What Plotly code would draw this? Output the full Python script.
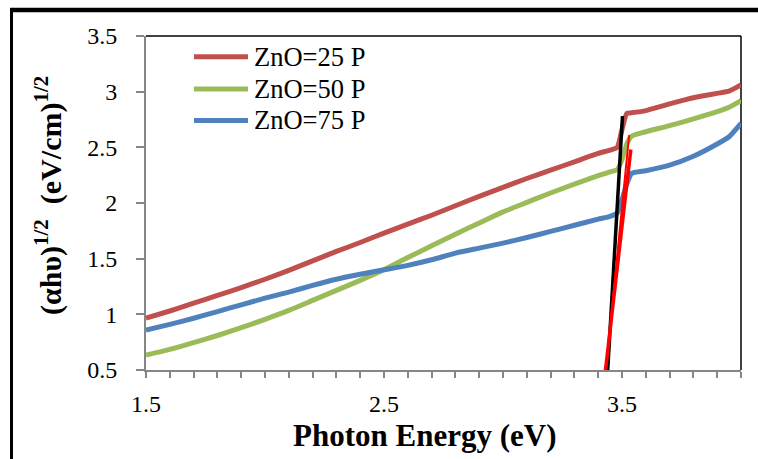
import plotly.graph_objects as go

# ---- data ----
energy = [1.5, 1.6, 1.7, 1.8, 1.9, 2.0, 2.1, 2.2, 2.3, 2.4, 2.5, 2.6, 2.7, 2.8, 2.9,
          3.0, 3.1, 3.2, 3.3, 3.4, 3.45, 3.48, 3.5, 3.52, 3.54, 3.6, 3.7, 3.8, 3.9, 3.95, 4.0]
zno_25 = [0.965, 1.03, 1.10, 1.17, 1.24, 1.315, 1.395, 1.48, 1.565, 1.645, 1.73, 1.81, 1.89,
          1.975, 2.06, 2.14, 2.22, 2.295, 2.37, 2.445, 2.475, 2.50, 2.66, 2.805, 2.81, 2.83,
          2.89, 2.945, 2.985, 3.005, 3.06]
zno_50 = [0.634, 0.685, 0.745, 0.81, 0.88, 0.955, 1.035, 1.125, 1.215, 1.305, 1.40, 1.51, 1.615,
          1.72, 1.82, 1.92, 2.005, 2.09, 2.17, 2.245, 2.28, 2.30, 2.39, 2.53, 2.60, 2.64,
          2.695, 2.755, 2.82, 2.86, 2.92]
zno_75 = [0.858, 0.91, 0.965, 1.025, 1.085, 1.145, 1.20, 1.26, 1.315, 1.36, 1.40, 1.44, 1.49,
          1.55, 1.595, 1.64, 1.69, 1.745, 1.80, 1.855, 1.88, 1.91, 2.03, 2.17, 2.265, 2.29,
          2.34, 2.42, 2.53, 2.595, 2.715]
series_names = ["ZnO=25 P", "ZnO=50 P", "ZnO=75 P"]

# band-gap extrapolation (tangent) lines
tan_black_x = [3.44, 3.502]
tan_black_y = [0.5, 2.78]
tan_red_x = [3.428, 3.537]
tan_red_y = [0.45, 2.48]
tan_red2_x = [3.43, 3.53]
tan_red2_y = [0.45, 2.61]

x_ticks = [1.5, 2.5, 3.5]
y_ticks = [0.5, 1, 1.5, 2, 2.5, 3, 3.5]

colors = ["#C0504D", "#9BBB59", "#4F81BD"]
SERIF = "Liberation Serif, Times New Roman, serif"

fig = go.Figure()
for name, ys, c in zip(series_names, [zno_25, zno_50, zno_75], colors):
    fig.add_trace(go.Scatter(x=energy, y=ys, mode="lines", name=name,
                             line=dict(color=c, width=5, shape="spline", smoothing=0.5),
                             showlegend=False))
fig.add_trace(go.Scatter(x=tan_black_x, y=tan_black_y, mode="lines",
                         line=dict(color="#000000", width=3.5), showlegend=False))
fig.add_trace(go.Scatter(x=tan_red2_x, y=tan_red2_y, mode="lines",
                         line=dict(color="#FF0000", width=2), showlegend=False))
fig.add_trace(go.Scatter(x=tan_red_x, y=tan_red_y, mode="lines",
                         line=dict(color="#FF0000", width=3.5), showlegend=False))

W, H = 758, 459
L, R, T, B = 146, 17, 36, 89
pw, ph = W - L - R, H - T - B

def px(xp):
    return (xp - L) / pw

def py(yp):
    return (H - B - yp) / ph

shapes = [
    # plot-area border (top and right edges)
    dict(type="line", xref="paper", yref="paper", x0=0, x1=1, y0=1, y1=1,
         line=dict(color="#000000", width=1.5), layer="below"),
    dict(type="line", xref="paper", yref="paper", x0=1, x1=1, y0=0, y1=1,
         line=dict(color="#000000", width=1.5), layer="below"),
    # outer chart frame: top edge
    dict(type="rect", xref="paper", yref="paper", x0=px(10.3), x1=px(758), y0=py(12.2), y1=py(7.8),
         fillcolor="#000000", line=dict(width=0), layer="above"),
]
annotations = []
legend_rows = [56.7, 89, 120.5]
for name, c, yy in zip(series_names, colors, legend_rows):
    shapes.append(dict(type="line", xref="paper", yref="paper", x0=px(194), x1=px(248),
                       y0=py(yy), y1=py(yy), line=dict(color=c, width=5)))
    annotations.append(dict(text=name, xref="paper", yref="paper", x=px(252), y=py(yy),
                            xanchor="left", yanchor="middle", showarrow=False,
                            font=dict(family=SERIF, size=26.5, color="#000000")))

# outer chart frame: left edge, drawn as a filled annotation box
annotations.append(dict(text=" ", xref="paper", yref="paper", x=px(10.3), y=py(7.8),
                        xanchor="left", yanchor="top", showarrow=False,
                        width=3, height=452, borderpad=0, borderwidth=0,
                        bgcolor="#000000", font=dict(size=2, color="#000000")))

annotations.append(dict(text="<b>Photon Energy (eV)</b>", xref="paper", yref="paper",
                        x=px(424), y=py(435), xanchor="center", yanchor="middle",
                        showarrow=False, font=dict(family=SERIF, size=31, color="#000000")))
annotations.append(dict(text="<b>(αhυ)<sup>1/2</sup>  (eV/cm)<sup>1/2</sup></b>", xref="paper",
                        yref="paper", x=px(48), y=py(196), xanchor="center", yanchor="middle",
                        textangle=-90, showarrow=False,
                        font=dict(family=SERIF, size=30, color="#000000")))

fig.update_layout(
    width=W, height=H,
    margin=dict(l=L, r=R, t=T, b=B, pad=0),
    paper_bgcolor="white", plot_bgcolor="white",
    showlegend=False,
    shapes=shapes, annotations=annotations,
    xaxis=dict(range=[1.5, 4.0], tickmode="array", tickvals=x_ticks,
               ticktext=[str(v) for v in x_ticks],
               showgrid=False, zeroline=False, showline=True, linecolor="#868686", linewidth=2,
               ticks="outside", ticklen=6, tickwidth=1.5, tickcolor="#868686",
               minor=dict(dtick=0.1, tick0=1.5, ticks="outside", ticklen=6, tickwidth=1.5,
                          tickcolor="#868686", showgrid=False),
               tickfont=dict(family=SERIF, size=24, color="#000000"),
               ticklabelstandoff=5),
    yaxis=dict(range=[0.5, 3.5], tickmode="array", tickvals=y_ticks,
               ticktext=["0.5", "1", "1.5", "2", "2.5", "3", "3.5"],
               showgrid=False, zeroline=False, showline=True, linecolor="#868686", linewidth=2,
               ticks="outside", ticklen=8, tickwidth=1.5, tickcolor="#868686",
               tickfont=dict(family=SERIF, size=24, color="#000000"),
               ticklabelstandoff=14),
)

fig.write_html("out.html", config={"displayModeBar": False})
